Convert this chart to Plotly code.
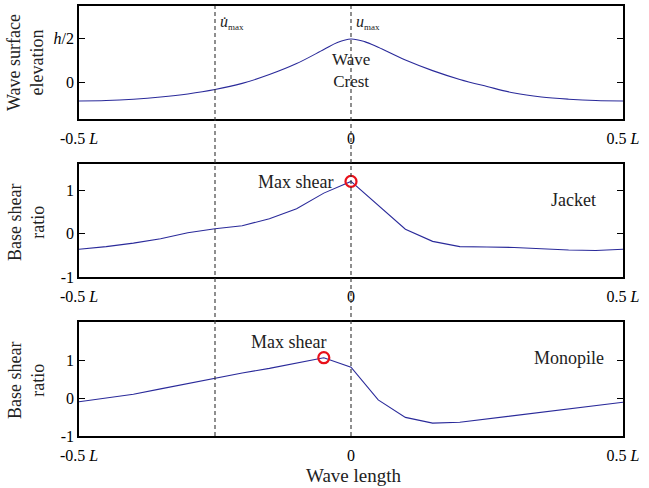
import numpy as np
import plotly.graph_objects as go

# ---------------- data ----------------
x_pos = [-0.5, -0.45, -0.4, -0.35, -0.3, -0.25, -0.2, -0.15, -0.1, -0.05, 0.0,
         0.05, 0.1, 0.15, 0.2, 0.25, 0.3, 0.35, 0.4, 0.45, 0.5]
x_elev = [-0.5, -0.45, -0.4, -0.35, -0.3, -0.25, -0.2, -0.15, -0.1, -0.05, -0.025, 0.0,
          0.025, 0.05, 0.1, 0.15, 0.2, 0.25, 0.3, 0.35, 0.4, 0.45, 0.5]
elevation = [-0.43, -0.42, -0.39, -0.34, -0.27, -0.17, -0.03, 0.17, 0.42, 0.74, 0.90, 0.98,
             0.92, 0.79, 0.50, 0.26, 0.06, -0.10, -0.25, -0.34, -0.39, -0.42, -0.43]
jacket = [-0.36, -0.30, -0.22, -0.12, 0.02, 0.11, 0.18, 0.34, 0.57, 0.93, 1.20,
          0.65, 0.10, -0.18, -0.30, -0.31, -0.32, -0.35, -0.38, -0.39, -0.36]
monopile = [-0.10, 0.00, 0.10, 0.24, 0.38, 0.53, 0.66, 0.78, 0.91, 1.06, 0.81,
            -0.05, -0.51, -0.66, -0.64, -0.55, -0.46, -0.38, -0.29, -0.20, -0.11]
x_ticks = [-0.5, 0, 0.5]
x_ticktext = ["-0.5 <i>L</i>", "0", "0.5 <i>L</i>"]
ratio_ticks = [-1, 0, 1]
elev_ticks = [0, 1]
elev_ticktext = ["0", "<i>h</i>/2"]
udot_x = -0.25
u_x = 0.0

FONT = "Liberation Serif"
LINE = "#2a2a9a"
W, H = 649, 488

def py(p):
    return 1 - p / H

fig = go.Figure()
fig.add_trace(go.Scatter(x=x_elev, y=elevation, mode="lines", line=dict(color=LINE, width=1.1, shape="spline"),
                         xaxis="x", yaxis="y", showlegend=False))
fig.add_trace(go.Scatter(x=x_pos, y=jacket, mode="lines", line=dict(color=LINE, width=1.1),
                         xaxis="x2", yaxis="y2", showlegend=False))
fig.add_trace(go.Scatter(x=x_pos, y=monopile, mode="lines", line=dict(color=LINE, width=1.1),
                         xaxis="x3", yaxis="y3", showlegend=False))
ij = int(np.argmax(jacket))
im = int(np.argmax(monopile))
marker = dict(symbol="circle-open", size=11, color="#e8101a", line=dict(width=2.2, color="#e8101a"))
fig.add_trace(go.Scatter(x=[x_pos[ij]], y=[jacket[ij]], mode="markers", marker=marker,
                         xaxis="x2", yaxis="y2", showlegend=False))
fig.add_trace(go.Scatter(x=[x_pos[im]], y=[monopile[im]], mode="markers", marker=marker,
                         xaxis="x3", yaxis="y3", showlegend=False))

xd = [79 / W, 623 / W]
doms = [(py(119), py(6)), (py(277), py(164)), (py(436), py(322))]
yranges = [[-0.84, 1.73], [-1, 1.6], [-1, 2.0]]

axfont = dict(family=FONT, size=16, color="black")
for i in range(3):
    s = "" if i == 0 else str(i + 1)
    fig.update_layout(**{
        "xaxis" + s: dict(domain=xd, range=[-0.5, 0.5], tickvals=x_ticks, ticktext=x_ticktext,
                          showline=True, mirror=True, linecolor="black", linewidth=1.5,
                          ticks="", showgrid=False, zeroline=False, tickfont=axfont,
                          ticklabelstandoff=4, anchor="y" + s, automargin=False),
        "yaxis" + s: dict(domain=list(doms[i]), range=yranges[i],
                          tickvals=elev_ticks if i == 0 else ratio_ticks,
                          ticktext=elev_ticktext if i == 0 else ["-1", "0", "1"],
                          showline=True, mirror="ticks", linecolor="black", linewidth=1.5,
                          ticks="inside", ticklen=6, tickcolor="black", tickwidth=1,
                          showgrid=False, zeroline=False, tickfont=axfont, anchor="x" + s,
                          automargin=False),
    })

# dashed vertical reference lines across all panels
for xv in [udot_x, u_x]:
    fig.add_shape(type="line", xref="x", yref="paper", x0=xv, x1=xv, y0=py(436), y1=py(6),
                  line=dict(color="#333333", width=1.1, dash="4px,3px"), layer="above")

ann = []
def A(text, x, y, xref="paper", size=18, xanchor="center", angle=0, yref="paper"):
    ann.append(dict(text=text, x=x, y=y, xref=xref, yref=yref, showarrow=False,
                    font=dict(family=FONT, size=size, color="#222"), xanchor=xanchor,
                    yanchor="middle", textangle=angle))

A("<i>u̇</i><sub><span style='font-size:9px'>max</span></sub>", udot_x, py(23), xref="x", size=16, xanchor="left")
A("<i>u</i><sub><span style='font-size:9px'>max</span></sub>", u_x, py(23), xref="x", size=16, xanchor="left")
ann[-2]["xshift"] = 3
ann[-1]["xshift"] = 3
A("Wave<br>Crest", 0, py(71), xref="x", size=17)
A("Max shear", 295 / W, py(182), size=18)
A("Jacket", 573 / W, py(200), size=18)
A("Max shear", 288 / W, py(342), size=18)
A("Monopile", 569 / W, py(358), size=18)
A("Wave length", 354 / W, py(475), size=19)
A("Wave surface<br>elevation", 26 / W, py(63), size=18, angle=-90)
A("Base shear<br>ratio", 26 / W, py(223), size=18, angle=-90)
A("Base shear<br>ratio", 26 / W, py(381), size=18, angle=-90)

fig.update_layout(annotations=ann, width=W, height=H, margin=dict(l=0, r=0, t=0, b=0),
                  plot_bgcolor="white", paper_bgcolor="white", font=dict(family=FONT))
fig.write_html("out.html", config={"displayModeBar": False},
               post_script="document.body.style.margin='0';document.body.style.overflow='hidden';")
